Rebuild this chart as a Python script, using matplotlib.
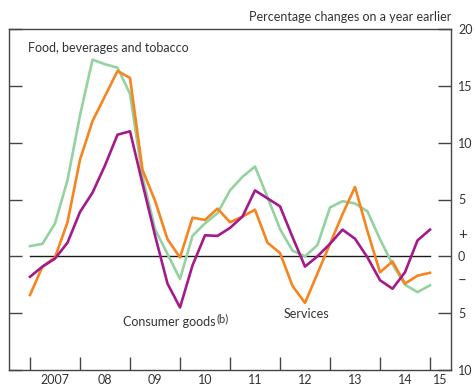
import numpy as np
import matplotlib
matplotlib.use('Agg')
import matplotlib.pyplot as plt

plt.rcParams['font.family'] = ['Lato', 'DejaVu Sans']

# quarterly, 2007 Q1 .. 2015 Q1
quarters = np.arange(33) * 0.25 + 2007

food = [0.9, 1.1, 2.9, 6.7, 12.4, 17.3, 16.9, 16.6, 14.3, 7.0, 2.4, 0.2, -2.0,
        1.8, 2.9, 3.8, 5.8, 7.0, 7.9, 5.2, 2.4, 0.5, 0.0, 1.0, 4.3, 4.85, 4.65,
        3.95, 1.5, -0.7, -2.5, -3.15, -2.55]
services = [-3.4, -0.9, -0.1, 3.0, 8.5, 11.9, 14.1, 16.3, 15.7, 7.6, 4.9, 1.5, -0.1,
            3.4, 3.2, 4.2, 3.0, 3.5, 4.1, 1.2, 0.3, -2.6, -4.1, -1.5, 1.1, 3.7, 6.1,
            2.2, -1.4, -0.45, -2.4, -1.7, -1.45]
consumer = [-1.8, -0.9, -0.2, 1.2, 3.9, 5.6, 8.0, 10.7, 11.0, 6.4, 1.85, -2.4, -4.5,
            -0.8, 1.85, 1.8, 2.5, 3.5, 5.8, 5.1, 4.4, 1.7, -0.9, 0.0, 1.1, 2.35, 1.55,
            -0.1, -2.1, -2.85, -1.4, 1.4, 2.35]

year_labels = ['2007', '08', '09', '10', '11', '12', '13', '14', '15']
year_label_pos = [2007.5, 2008.5, 2009.5, 2010.5, 2011.5, 2012.5, 2013.5, 2014.5, 2015.2]
y_ticks = [-10, -5, 0, 5, 10, 15, 20]
y_tick_labels = ['10', '5', '0', '5', '10', '15', '20']

text_col = '#333333'
axis_col = '#444444'

fig = plt.figure(figsize=(4.75, 3.87), dpi=100)
ax = fig.add_axes([9 / 475, 1 - 370 / 387, 442 / 475, 341 / 387])

ax.plot([2007, 2015], [0, 0], color='#1a1a1a', lw=1.0, zorder=1)
ax.plot(quarters, food, color='#94d2a0', lw=1.9, zorder=2)
ax.plot(quarters, services, color='#f6841f', lw=1.9, zorder=3)
ax.plot(quarters, consumer, color='#a4198c', lw=1.9, zorder=4)

ax.set_xlim(2006.58, 2015.42)
ax.set_ylim(-10, 20)

for s in ax.spines.values():
    s.set_color(axis_col)
    s.set_linewidth(1.0)

# x axis: year boundary ticks, labels at mid-year
ax.set_xticks(range(2007, 2016))
ax.set_xticklabels([])
ax.set_xticks(year_label_pos, minor=True)
ax.set_xticklabels(year_labels, minor=True)
ax.tick_params(axis='x', which='major', direction='in', length=9.4, width=1.0,
               color=axis_col, top=False)
ax.tick_params(axis='x', which='minor', length=0, pad=3, labelsize=9,
               labelcolor=text_col)

# y axis: ticks both sides, labels on right
ax.set_yticks(y_ticks)
ax.set_yticklabels(y_tick_labels)
ax.set_yticks([2, -2], minor=True)
ax.set_yticklabels(['+', '\u2013'], minor=True)
ax.yaxis.set_ticks_position('both')
ax.tick_params(axis='y', which='major', direction='in', length=9.4, width=1.0,
               color=axis_col, left=True, right=True, labelleft=False,
               labelright=True, pad=5, labelsize=9, labelcolor=text_col)
ax.tick_params(axis='y', which='minor', length=0, left=False, right=True,
               labelleft=False, labelright=True, pad=5, labelsize=11,
               labelcolor=text_col)

fig.text(451 / 475, 1 - 21 / 387, 'Percentage changes on a year earlier',
         ha='right', va='baseline', fontsize=9, color=text_col)

ax.text(2006.96, 18.0, 'Food, beverages and tobacco', ha='left', va='baseline',
        fontsize=9, color=text_col)
cg = ax.text(2008.86, -6.1, 'Consumer goods', ha='left', va='baseline',
             fontsize=9, color=text_col)
ax.annotate('(b)', xy=(1, 1), xycoords=cg, xytext=(0.5, 1.5),
            textcoords='offset points', ha='left', va='top', fontsize=8,
            color=text_col)
ax.text(2012.08, -5.4, 'Services', ha='left', va='baseline', fontsize=9,
        color=text_col)

plt.savefig('out.png', dpi=100)
